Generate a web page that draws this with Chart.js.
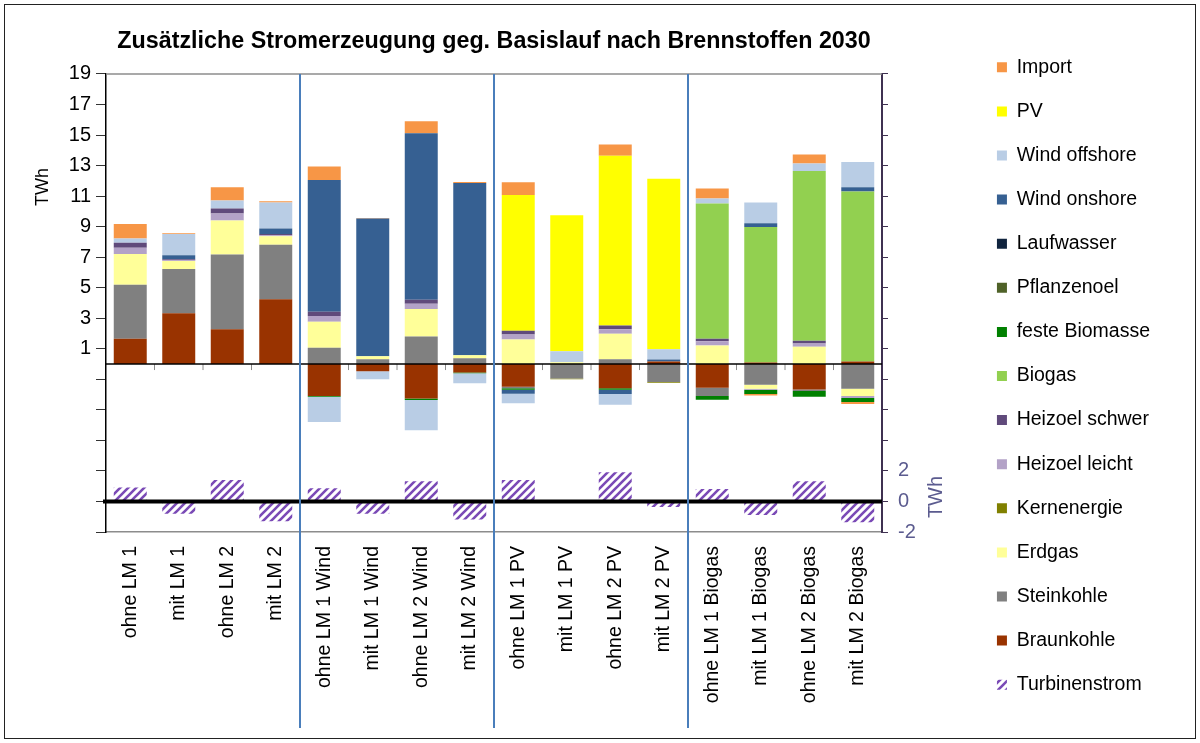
<!DOCTYPE html>
<html>
<head>
<meta charset="utf-8">
<script src="https://cdn.jsdelivr.net/npm/chart.js@4"></script>
<style>
  body { margin: 0; background: #fff; }
  canvas { display: block; }
</style>
</head>
<body>
<canvas id="stromChart" width="1200" height="743"></canvas>
<script>
/* Zusätzliche Stromerzeugung geg. Basislauf nach Brennstoffen 2030 */
const categories = [
  "ohne LM 1", "mit LM 1", "ohne LM 2", "mit LM 2",
  "ohne LM 1 Wind", "mit LM 1 Wind", "ohne LM 2 Wind", "mit LM 2 Wind",
  "ohne LM 1 PV", "mit LM 1 PV", "ohne LM 2 PV", "mit LM 2 PV",
  "ohne LM 1 Biogas", "mit LM 1 Biogas", "ohne LM 2 Biogas", "mit LM 2 Biogas"
];

// TWh, stacked from bottom to top
const braunkohle    = [1.65, 3.33, 2.28, 4.25, -2.09, -0.47, -2.26, -0.56, -1.48, 0, -1.59, 0.17, -1.56, 0.1, -1.67, 0.16];
const steinkohle    = [3.55, 2.89, 4.9, 3.57, 1.06, 0.32, 1.8, 0.38, -0.1, -0.95, 0.32, -1.17, -0.53, -1.35, -0.1, -1.61];
const erdgas        = [2.0, 0.53, 2.22, 0.55, 1.71, 0.19, 1.8, 0.2, 1.61, 0.12, 1.66, 0, 1.21, -0.26, 1.13, -0.48];
const kernenergie   = [0, 0, 0, 0, 0, 0, 0, 0, 0, -0.04, 0, -0.05, 0, 0, 0, 0];
const heizoelLeicht = [0.42, 0.05, 0.46, 0.07, 0.37, 0, 0.35, 0, 0.33, 0, 0.3, 0, 0.29, -0.08, 0.22, -0.13];
const heizoelSchwer = [0.33, 0.07, 0.32, 0.08, 0.28, 0, 0.26, 0, 0.24, 0, 0.25, 0, 0.15, 0, 0.17, 0];
const biogas        = [0, 0, 0, 0, 0, 0, 0, 0, 0, 0, 0, 0, 8.86, 8.88, 11.13, 11.14];
const festeBiomasse = [0, 0, 0, 0, -0.05, 0, -0.1, -0.05, -0.1, 0, -0.1, 0, -0.24, -0.27, -0.37, -0.26];
const pflanzenoel   = [0, 0, 0, 0, 0, 0, 0, 0, 0, 0, 0, 0, 0, 0, 0, 0];
const laufwasser    = [0, 0, 0, 0, 0, 0, 0, 0, 0, 0, 0, 0, 0, 0, 0, 0];
const windOnshore   = [0, 0.26, 0, 0.35, 8.64, 9.02, 10.9, 11.28, -0.26, 0, -0.27, 0.12, 0, 0.24, 0, 0.28];
const windOffshore  = [0.28, 1.38, 0.53, 1.71, -1.66, -0.53, -1.98, -0.65, -0.63, 0.72, -0.7, 0.68, 0.33, 1.36, 0.48, 1.66];
const pv            = [0, 0, 0, 0, 0, 0, 0, 0, 8.9, 8.9, 11.11, 11.16, 0, 0, 0, 0];
const importStrom   = [0.94, 0.06, 0.87, 0.08, 0.88, 0.04, 0.79, 0.07, 0.83, 0, 0.74, 0, 0.66, -0.1, 0.6, -0.13];
// secondary axis
const turbinenstrom = [0.92, -0.81, 1.4, -1.29, 0.87, -0.81, 1.33, -1.18, 1.4, 0, 1.92, -0.37, 0.81, -0.88, 1.33, -1.36];

const FONT = "'Liberation Sans', Arial, sans-serif";

function hatch() {
  const c = document.createElement("canvas");
  c.width = 8; c.height = 8;
  const g = c.getContext("2d");
  g.fillStyle = "#fff";
  g.fillRect(0, 0, 8, 8);
  g.strokeStyle = "#7a4ab6";
  g.lineWidth = 2.6;
  g.beginPath();
  g.moveTo(-2, 10); g.lineTo(10, -2);
  g.moveTo(-2, 2); g.lineTo(2, -2);
  g.moveTo(6, 10); g.lineTo(10, 6);
  g.stroke();
  return g.createPattern(c, "repeat");
}

function fuel(label, data, color) {
  return { label, data, backgroundColor: color, borderWidth: 0, stack: "a",
           yAxisID: "y", barPercentage: 0.68, categoryPercentage: 1 };
}

const decor = {
  id: "decor",
  afterDatasetsDraw(chart) {
    const { ctx, chartArea: a, scales: { y, y2 } } = chart;
    const cw = (a.right - a.left) / categories.length;
    const ln = (x1, y1, x2, y2_) => { ctx.beginPath(); ctx.moveTo(x1, y1); ctx.lineTo(x2, y2_); ctx.stroke(); };
    ctx.save();
    // plot area top border
    ctx.strokeStyle = "#8c8c8c"; ctx.lineWidth = 1.5;
    ln(a.left, a.top, a.right, a.top);
    // primary zero line with category ticks
    const y0 = y.getPixelForValue(0);
    ctx.strokeStyle = "#8c8c8c"; ctx.lineWidth = 1;
    for (let i = 1; i < categories.length; i++) ln(a.left + i * cw, y0, a.left + i * cw, y0 + 6);
    ctx.strokeStyle = "#000"; ctx.lineWidth = 1.5;
    ln(a.left, y0, a.right, y0);
    // secondary zero line
    const t0 = y2.getPixelForValue(0);
    ctx.lineWidth = 4;
    ln(a.left - 3, t0, a.right, t0);
    // group separators
    ctx.strokeStyle = "#4a7ebb"; ctx.lineWidth = 2;
    [4, 8, 12].forEach(i => ln(a.left + i * cw, a.top, a.left + i * cw, chart.height - 15));
    ctx.restore();
  },
  afterDraw(chart) {
    const { ctx } = chart;
    ctx.save();
    ctx.strokeStyle = "#222"; ctx.lineWidth = 1;
    ctx.strokeRect(4.5, 4.5, chart.width - 9, chart.height - 9);
    ctx.textAlign = "center"; ctx.textBaseline = "middle";
    ctx.fillStyle = "#000"; ctx.font = "18px " + FONT;
    ctx.translate(43, 187); ctx.rotate(-Math.PI / 2); ctx.fillText("TWh", 0, 0);
    ctx.setTransform(1, 0, 0, 1, 0, 0);
    ctx.fillStyle = "#5b5b8f"; ctx.font = "20px " + FONT;
    ctx.translate(936, 497); ctx.rotate(-Math.PI / 2); ctx.fillText("TWh", 0, 0);
    ctx.restore();
  }
};

new Chart(document.getElementById("stromChart"), {
  type: "bar",
  data: {
    labels: categories,
    datasets: [
      fuel("Braunkohle", braunkohle, "#993300"),
      fuel("Steinkohle", steinkohle, "#808080"),
      fuel("Erdgas", erdgas, "#ffff99"),
      fuel("Kernenergie", kernenergie, "#808000"),
      fuel("Heizoel leicht", heizoelLeicht, "#b3a2c7"),
      fuel("Heizoel schwer", heizoelSchwer, "#604a7b"),
      fuel("Biogas", biogas, "#92d050"),
      fuel("feste Biomasse", festeBiomasse, "#008000"),
      fuel("Pflanzenoel", pflanzenoel, "#4f6228"),
      fuel("Laufwasser", laufwasser, "#10243e"),
      fuel("Wind onshore", windOnshore, "#366092"),
      fuel("Wind offshore", windOffshore, "#b9cde5"),
      fuel("PV", pv, "#ffff00"),
      fuel("Import", importStrom, "#f79646"),
      { label: "Turbinenstrom", data: turbinenstrom, backgroundColor: hatch(), borderWidth: 0,
        yAxisID: "y2", stack: "t", grouped: false, barPercentage: 0.68, categoryPercentage: 1 }
    ]
  },
  options: {
    responsive: false,
    animation: false,
    layout: { padding: { top: 9, right: 40, left: 0, bottom: 0 } },
    scales: {
      x: {
        stacked: true,
        grid: { display: false, drawTicks: false },
        border: { display: true, color: "#8c8c8c", width: 1.5 },
        ticks: { color: "#000", font: { family: FONT, size: 19.5 }, minRotation: 90, maxRotation: 90,
                 autoSkip: false, padding: 14 },
        afterFit: s => { s.height = 211; }
      },
      y: {
        stacked: true, min: -11, max: 19,
        ticks: { stepSize: 2, color: "#000", font: { family: FONT, size: 20 }, padding: 5,
                 callback: v => (v > 0 ? v : "") },
        grid: { drawOnChartArea: false, drawTicks: true, tickLength: 10, color: "#333" },
        border: { display: true, color: "#000", width: 1.5 },
        afterFit: s => { s.width = 106; }
      },
      y2: {
        position: "right", stacked: true, min: -2, max: 28,
        ticks: { stepSize: 2, color: "#5b5b8f", font: { family: FONT, size: 20 }, padding: 10,
                 callback: v => (v <= 2 ? v : "") },
        grid: { drawOnChartArea: false, drawTicks: true, tickLength: 6, color: "#3f3151" },
        border: { display: true, color: "#3f3151", width: 2 },
        afterFit: s => { s.width = s.chart.width - 882 - 40 - (s.chart.legend ? s.chart.legend.width : 0); }
      }
    },
    plugins: {
      title: {
        display: true, fullSize: false,
        text: "Zusätzliche Stromerzeugung geg. Basislauf nach Brennstoffen 2030",
        color: "#000", font: { family: FONT, size: 23.3, weight: "bold" },
        padding: { top: 19, bottom: 18 }
      },
      legend: {
        position: "right", align: "center",
        labels: {
          color: "#000", font: { family: FONT, size: 19.5 },
          boxWidth: 10, boxHeight: 10, padding: 24.6,
          sort: (a, b) => {
            const rank = i => (i === 14 ? 99 : 13 - i);
            return rank(a.datasetIndex) - rank(b.datasetIndex);
          }
        }
      },
      tooltip: { enabled: false }
    }
  },
  plugins: [decor]
});
</script>
</body>
</html>
